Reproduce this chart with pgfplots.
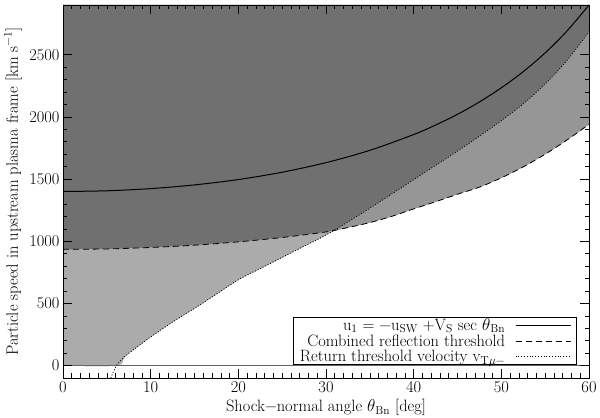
\documentclass[border=0pt]{standalone}
\usepackage{pgfplots}
\pgfplotsset{compat=1.18}
\usepgfplotslibrary{fillbetween}
\definecolor{dk}{gray}{0.44}
\definecolor{md}{gray}{0.59}
\definecolor{lt}{gray}{0.67}
\newcommand\myfont{\fontsize{16.5}{18}\selectfont}
\begin{document}
\begin{tikzpicture}[font=\myfont]
\begin{axis}[
  at={(0,0)}, anchor=south west,
  scale only axis, width=526bp, height=373bp,
  xmin=0, xmax=60, ymin=-100, ymax=2900,
  xtick={0,10,...,60}, ytick={0,500,...,2500},
  minor x tick num=9, minor y tick num=4,
  tick align=inside, major tick length=9bp, minor tick length=4.5bp,
  tick style={black, line width=0.6pt},
  axis line style={line width=0.8pt},
  /pgf/number format/assume math mode=true,
  /pgf/number format/1000 sep={},
  tick label style={font=\myfont},
  label style={font=\myfont},
  xlabel={Shock−normal angle $\theta$\textsubscript{Bn} [deg]},
  ylabel={Particle speed in upstream plasma frame [km s\textsuperscript{−1}]},
  xlabel style={at={(axis description cs:0.5,-0.08)}, anchor=center},
  ylabel style={at={(axis description cs:-0.095,0.5)}, anchor=center},
  axis on top,
  legend style={at={(axis description cs:0.976,0.035)}, anchor=south east,
    draw=black, line width=0.6pt, fill=white, row sep=2pt, column sep=8bp,
    inner xsep=5bp, inner ysep=1pt, font=\myfont,
    nodes={inner ysep=0.4pt, inner xsep=2bp}},
  legend cell align=right, legend plot pos=right,
  legend image code/.code={\draw[#1] (0bp,0bp) -- (55bp,0bp);},
]
% invisible helper paths
\addplot[draw=none, name path=top, forget plot] coordinates {(0,2900) (60,2900)};
\addplot[draw=none, name path=dotfill, smooth, forget plot] coordinates {
 (0,0) (6.1,0) (7,70) (8,125) (10,230) (12.5,350) (15,460) (17.5,575)
 (20,690) (22.5,780) (25,870) (27.5,960) (30,1050) (32.5,1155) (35,1265)
 (37.5,1380) (40,1495) (42.5,1610) (45,1725) (47.5,1845) (50,1970)
 (52.5,2105) (55,2265) (57.5,2455) (60,2685)};
\addplot[draw=none, name path=dashed, smooth, forget plot] coordinates {
 (0,935) (5,938) (10,950) (15,968) (20,995) (25,1030) (30,1075) (32.5,1110)
 (35,1150) (37.5,1200) (40,1260) (42.5,1318) (45,1378) (47.5,1435)
 (50,1510) (52.5,1598) (55,1700) (57.5,1815) (60,1940)};
% fills
\addplot[dk, forget plot] fill between[of=dashed and top];
\addplot[dk, forget plot] fill between[of=dotfill and top];
\addplot[forget plot] fill between[of=dashed and dotfill, split,
  every segment no 0/.style={lt}, every segment no 1/.style={md}];
% zero line
\addplot[black!60, line width=0.9bp, forget plot] coordinates {(0,0) (60,0)};
% curves
\addplot[black, line width=1bp, smooth] coordinates {
 (0,1400) (5,1405.7) (10,1423) (15,1453) (20,1496) (25,1555) (30,1632)
 (35,1731) (40,1858) (42.5,1934.5) (45,2021) (47.5,2120) (50,2234)
 (52.5,2364) (55,2515) (57.5,2692) (60,2900)};
\addlegendentry{u\textsubscript{1} = −u\textsubscript{SW} +V\textsubscript{S} sec $\theta$\textsubscript{Bn}}
\addplot[black, line width=0.8bp, dash pattern=on 6bp off 4bp, smooth] coordinates {
 (0,935) (5,938) (10,950) (15,968) (20,995) (25,1030) (30,1075) (32.5,1110)
 (35,1150) (37.5,1200) (40,1260) (42.5,1318) (45,1378) (47.5,1435)
 (50,1510) (52.5,1598) (55,1700) (57.5,1815) (60,1940)};
\addlegendentry{Combined reflection threshold}
\addplot[black, line width=0.8bp, dash pattern=on 1bp off 1.8bp, smooth] coordinates {
 (5.45,-100) (6.1,0) (7,70) (8,125) (10,230) (12.5,350) (15,460) (17.5,575)
 (20,690) (22.5,780) (25,870) (27.5,960) (30,1050) (32.5,1155) (35,1265)
 (37.5,1380) (40,1495) (42.5,1610) (45,1725) (47.5,1845) (50,1970)
 (52.5,2105) (55,2265) (57.5,2455) (60,2685)};
\addlegendentry{Return threshold velocity v\textsubscript{T$\mu$−}}
\end{axis}
\pgfresetboundingbox
\path (-63bp,-40bp) rectangle (537bp,378bp);
\end{tikzpicture}
\end{document}
